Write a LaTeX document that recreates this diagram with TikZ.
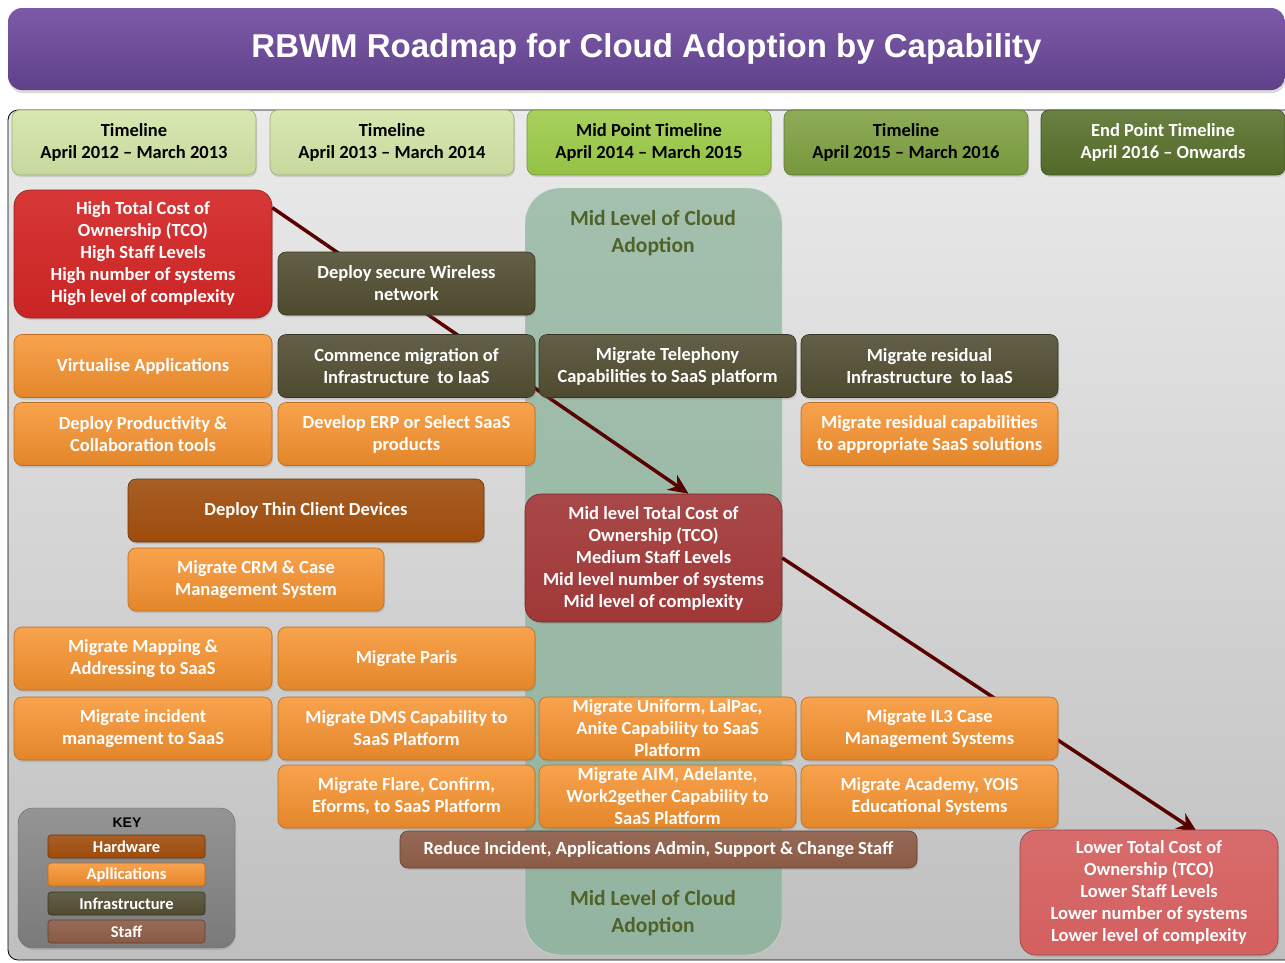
\documentclass[tikz,border=0pt]{standalone}
\usepackage{fontspec}
\setmainfont{Carlito}
\newfontfamily\titlefont{Liberation Sans}
\usetikzlibrary{arrows.meta,calc,shadows}

\definecolor{apporange}{HTML}{F7922E}
\definecolor{infolive}{HTML}{4E4A2F}
\definecolor{hwbrown}{HTML}{9E4C0C}
\definecolor{staffbrown}{HTML}{8A5A45}
\definecolor{highred}{HTML}{D42626}
\definecolor{midred}{HTML}{A13838}
\definecolor{lowred}{HTML}{D45F5F}
\definecolor{tlpale}{HTML}{D2E4A6}
\definecolor{tlbright}{HTML}{9CCB48}
\definecolor{tlmid}{HTML}{7EA040}
\definecolor{tldark}{HTML}{566F2A}
\definecolor{titletop}{HTML}{7D5AA8}
\definecolor{titlebot}{HTML}{5F418A}
\definecolor{midcol}{HTML}{93B4A0}
\definecolor{midtext}{HTML}{4F6228}

\tikzset{
  box/.style={rounded corners=8pt, align=center, text=white, inner sep=2pt,
    minimum width=257pt, minimum height=63pt, line width=0.6pt,
    font=\bfseries\fontsize{18.5}{22}\selectfont,
    drop shadow={opacity=0.25, shadow xshift=1pt, shadow yshift=-2pt}},
  appbox/.style={box, top color=apporange!85!white, bottom color=apporange!92!black, draw=apporange!75!black},
  infbox/.style={box, top color=infolive!88!white, bottom color=infolive, draw=infolive!70!black},
  hwbox/.style={box, top color=hwbrown!90!white, bottom color=hwbrown, draw=hwbrown!70!black},
  staffbox/.style={box, top color=staffbrown!90!white, bottom color=staffbrown, draw=staffbrown!70!black},
  costbox/.style={box, rounded corners=16pt, minimum height=128pt},
  tlbox/.style={box, minimum width=244pt, minimum height=65pt, text=black, draw=#1!75!black,
    top color=#1!88!white, bottom color=#1!95!black},
  keyitem/.style={box, rounded corners=3pt, minimum width=157pt, minimum height=23pt,
    font=\bfseries\fontsize{16.5}{18}\selectfont},
  midlabel/.style={align=center, text=midtext, font=\bfseries\fontsize{21.5}{27}\selectfont},
  flow/.style={line width=3.5pt, draw=black!65!red, -{Stealth[length=20pt, width=18pt]}}
}

\begin{document}
\begin{tikzpicture}[x=1pt, y=-1pt]
  \useasboundingbox (0,0) rectangle (1285,962);

  % title bar
  \node[rounded corners=14pt, minimum width=1277pt, minimum height=82pt, top color=titletop, bottom color=titlebot,
    text=white, font=\titlefont\bfseries\fontsize{33}{38}\selectfont,
    drop shadow={opacity=0.3, shadow xshift=1pt, shadow yshift=-3pt}] (title) at (646.5,49)
    {RBWM Roadmap for Cloud Adoption by Capability};

  % frame and mid column
  \draw[rounded corners=10pt, line width=0.8pt, top color=black!8, bottom color=black!25] (8,110) rectangle (1300,960);
  \draw[rounded corners=35pt, draw=white!60!midcol, top color=midcol!85!white, bottom color=midcol] (525,188) rectangle (782,955);
  \node[midlabel] (midtop) at (653,233) {Mid Level of Cloud\\Adoption};
  \node[midlabel] (midbot) at (653,913) {Mid Level of Cloud\\Adoption};

  % timeline
  \node[tlbox=tlpale] (tl1) at (134,142.5) {Timeline\\April 2012 -- March 2013};
  \node[tlbox=tlpale] (tl2) at (392,142.5) {Timeline\\April 2013 -- March 2014};
  \node[tlbox=tlbright] (tl3) at (649,142.5) {Mid Point Timeline\\April 2014 -- March 2015};
  \node[tlbox=tlmid] (tl4) at (906,142.5) {Timeline\\April 2015 -- March 2016};
  \node[tlbox=tldark, text=white] (tl5) at (1163,142.5) {End Point Timeline\\April 2016 -- Onwards};

  % cost levels
  \node[costbox, top color=highred!92!white, bottom color=highred!95!black, draw=highred!70!black, minimum width=258pt] (high) at (143,254)
    {High Total Cost of\\Ownership (TCO)\\High Staff Levels\\High number of systems\\High level of complexity};
  \node[costbox, top color=midred!92!white, bottom color=midred, draw=midred!70!black] (midcost) at (653.5,558)
    {Mid level Total Cost of\\Ownership (TCO)\\Medium Staff Levels\\Mid level number of systems\\Mid level of complexity};

  \coordinate (from1) at ($(high.north east)+(0,18)$);
  \coordinate (to1) at ($(midcost.north)+(35,0)$);
  \coordinate (to2) at (1197,832);
  \draw[flow] (from1) -- (to1);
  \draw[flow] (midcost.east) -- (to2);

  \node[costbox, top color=lowred!92!white, bottom color=lowred, draw=lowred!70!black, minimum width=258pt, minimum height=125pt] (low) at (1149,892.5)
    {Lower Total Cost of\\Ownership (TCO)\\Lower Staff Levels\\Lower number of systems\\Lower level of complexity};

  % capabilities
  \node[infbox] (wireless) at (406.5,283.5) {Deploy secure Wireless\\network};
  \node[appbox, minimum width=258pt] (virt) at (143,366) {Virtualise Applications};
  \node[infbox] (commence) at (406.5,366) {Commence migration of\\Infrastructure~ to IaaS};
  \node[infbox] (telephony) at (667.5,366) {Migrate Telephony\\Capabilities to SaaS platform};
  \node[infbox] (residinf) at (929.5,366) {Migrate residual\\Infrastructure~ to IaaS};
  \node[appbox, minimum width=258pt] (product) at (143,434) {Deploy Productivity \&\\Collaboration tools};
  \node[appbox] (erp) at (406.5,434) {Develop ERP or Select SaaS\\products};
  \node[appbox] (residcap) at (929.5,434) {Migrate residual capabilities\\to appropriate SaaS solutions};
  \node[hwbox, minimum width=356pt] (thin) at (306,510.5) {Deploy Thin Client Devices};
  \node[appbox, minimum width=256pt] (crm) at (256,579.5) {Migrate CRM \& Case\\Management System};
  \node[appbox, minimum width=258pt] (mapping) at (143,658.5) {Migrate Mapping \&\\Addressing to SaaS};
  \node[appbox] (paris) at (406.5,658.5) {Migrate Paris};
  \node[appbox, minimum width=258pt] (incident) at (143,728.5) {Migrate incident\\management to SaaS};
  \node[appbox] (dms) at (406.5,728.5) {Migrate DMS Capability to\\SaaS Platform};
  \node[appbox] (uniform) at (667.5,728.5) {Migrate Uniform, LalPac,\\Anite Capability to SaaS\\Platform};
  \node[appbox] (il3) at (929.5,728.5) {Migrate IL3 Case\\Management Systems};
  \node[appbox] (flare) at (406.5,796.5) {Migrate Flare, Confirm,\\Eforms, to SaaS Platform};
  \node[appbox] (aim) at (667.5,796.5) {Migrate AIM, Adelante,\\Work2gether Capability to\\SaaS Platform};
  \node[appbox] (academy) at (929.5,796.5) {Migrate Academy, YOIS\\Educational Systems};
  \node[staffbox, minimum width=517pt, minimum height=37pt] (reduce) at (658.5,849.5)
    {Reduce Incident, Applications Admin, Support \& Change Staff};

  % key
  \node[rounded corners=15pt, minimum width=217pt, minimum height=140pt, draw=black!60, top color=black!42, bottom color=black!52,
    drop shadow={opacity=0.25, shadow xshift=1pt, shadow yshift=-2pt}] (key) at (126.5,878) {};
  \node[font=\titlefont\bfseries\fontsize{14}{16}\selectfont] (keytitle) at (127,823) {KEY};
  \node[hwbox, keyitem] (kh) at (126.5,846.5) {Hardware};
  \node[appbox, keyitem] (ka) at (126.5,874.5) {Apllications};
  \node[infbox, keyitem] (ki) at (126.5,903.5) {Infrastructure};
  \node[staffbox, keyitem] (ks) at (126.5,931.5) {Staff};
\end{tikzpicture}
\end{document}
